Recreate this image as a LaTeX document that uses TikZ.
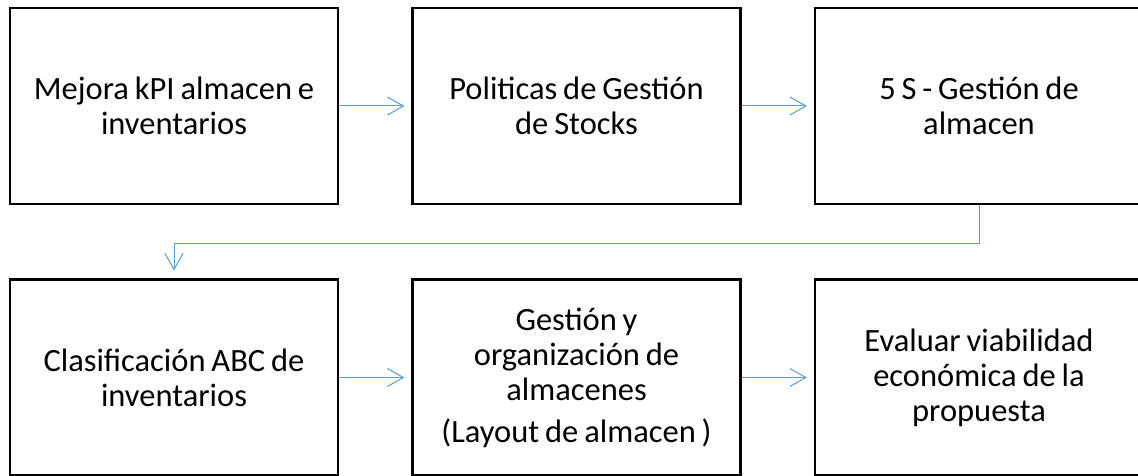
\documentclass[tikz,border=0pt]{standalone}
\usepackage{fontspec}
\setmainfont{Carlito}[WordSpace={0.8,0,0}]
\usetikzlibrary{arrows.meta}
\definecolor{arrowblue}{HTML}{5B9BD5}
\newcommand{\boxfont}{\fontsize{32.5}{35}\selectfont}
\begin{document}
\begin{tikzpicture}[x=1pt,y=-1pt,
  procbox/.style={draw=black, line width=2.2pt, minimum width=328pt, minimum height=196pt,
    align=center, inner sep=0pt, font=\boxfont},
  flow/.style={draw=arrowblue, line width=1pt, -{Straight Barb[length=16pt,width=18pt]}, shorten >=7pt}
]
\useasboundingbox (0,0) rectangle (1138,476);
\node[procbox] (b1) at (174,106) {Mejora kPI almacen e\\inventarios};
\node[procbox] (b2) at (576.5,106) {Politicas de Gestión\\de Stocks};
\node[procbox] (b3) at (979,106) {5 S - Gestión de\\almacen};
\node[procbox] (b4) at (174,377.5) {Clasificación ABC de\\inventarios};
\node[procbox] (b5) at (576.5,377.5) {Gestión y\\organización de\\almacenes\\[7pt](Layout de almacen )};
\node[procbox] (b6) at (979,377.5) {Evaluar viabilidad\\económica de la\\propuesta};
\draw[flow] (b1) -- (b2);
\draw[flow] (b2) -- (b3);
\draw[flow] (b4) -- (b5);
\draw[flow] (b5) -- (b6);
\draw[flow, shorten >=8pt] (b3.south) -- ++(0,38) -| (b4.north);
\end{tikzpicture}
\end{document}
